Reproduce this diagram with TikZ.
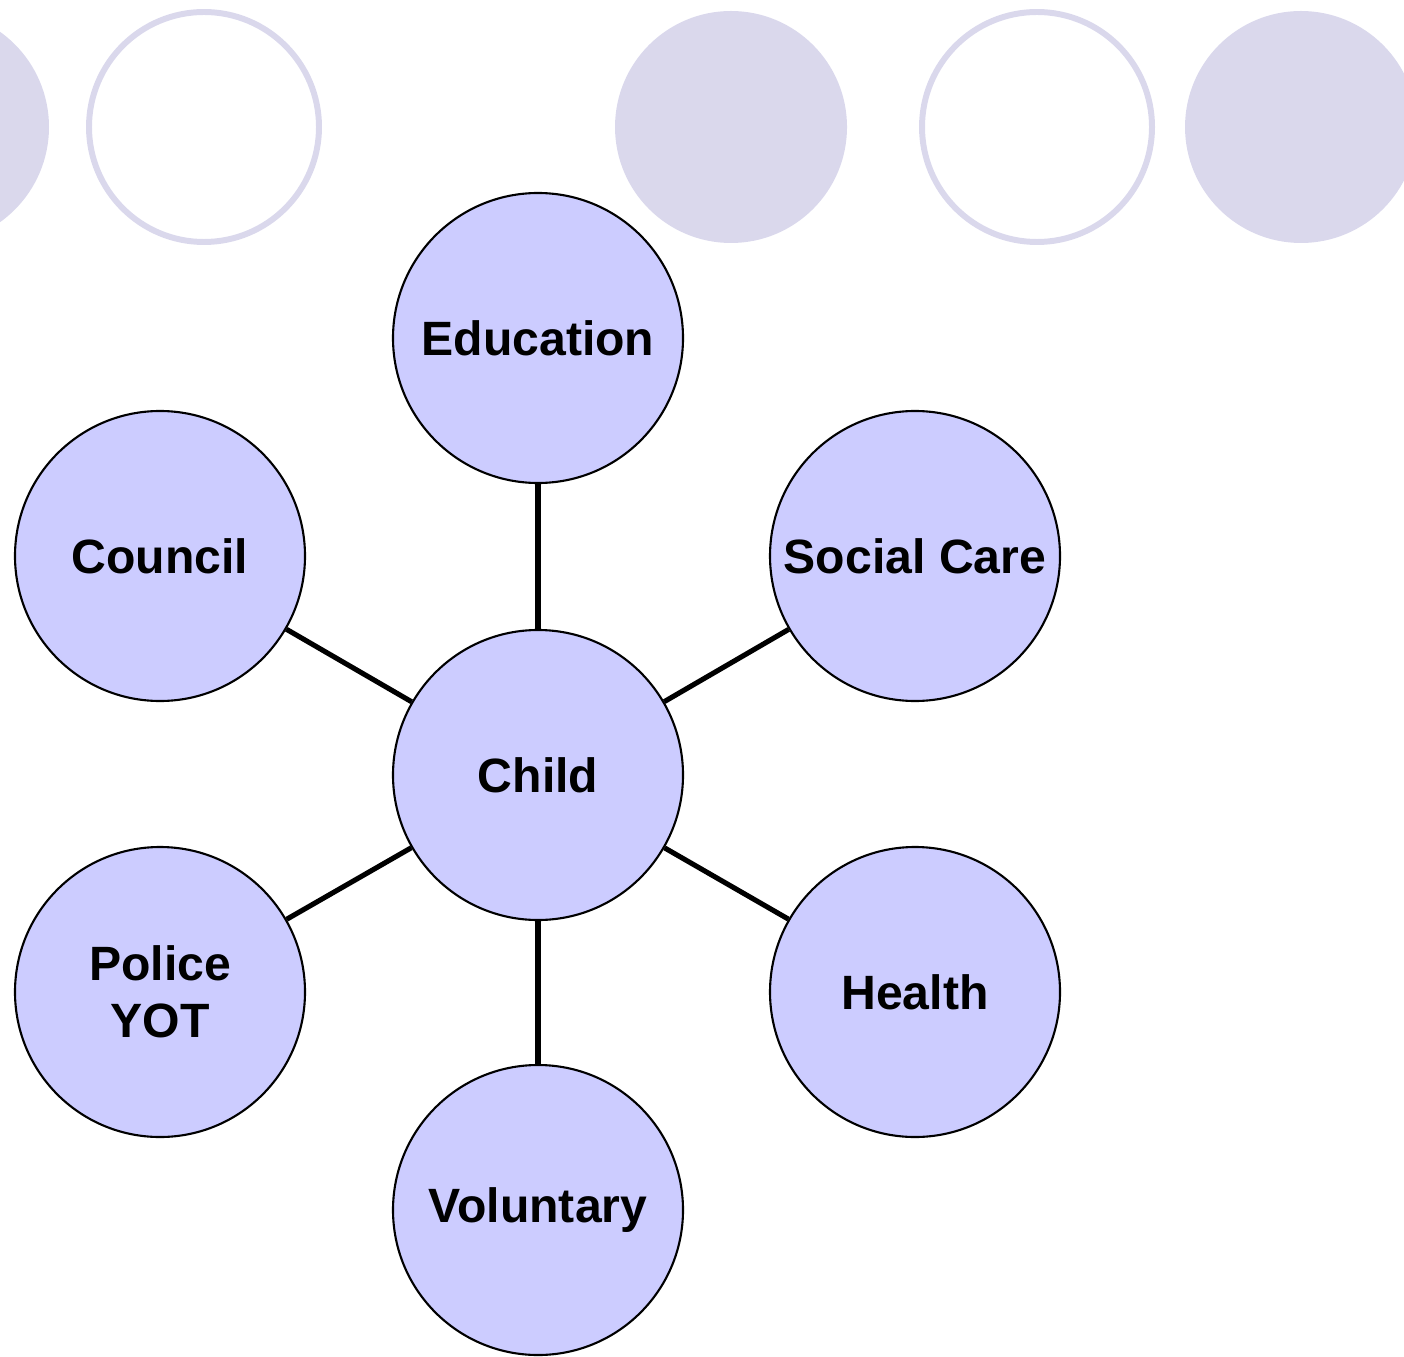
\documentclass[tikz,border=0pt]{standalone}
\usepackage{fontspec}
\setmainfont{Liberation Sans}
\definecolor{agency}{HTML}{CCCCFF}
\definecolor{dotband}{HTML}{DAD8EC}
\tikzset{
  agency/.style={circle, draw=black, line width=0.6pt, fill=agency,
    minimum size=2.9cm, inner sep=0pt, align=center,
    font=\fontsize{13.7}{16.2}\selectfont\bfseries},
  link/.style={line width=1.45pt, black},
  dotfull/.style={fill=dotband},
  dotring/.style={draw=dotband, line width=1.7pt}
}
\begin{document}
\begin{tikzpicture}
  \clip (0,0) rectangle (14.04,13.56);
  \useasboundingbox (0,0) rectangle (14.04,13.56);

  % band of circles along the top
  \fill[dotfull] (-0.68,12.29) circle (1.17);
  \draw[dotring] (2.04,12.29) circle (1.15);
  \fill[dotfull] (7.31,12.29) circle (1.16);
  \draw[dotring] (10.37,12.29) circle (1.15);
  \fill[dotfull] (13.01,12.29) circle (1.16);

  % the child in the middle, agencies around it
  \node[agency] (child) at (5.38,5.81) {Child};
  \node[agency] (education) at (5.38,10.18) {Education};
  \node[agency] (social) at (9.15,8.00) {Social Care};
  \node[agency] (council) at (1.60,8.00) {Council};
  \node[agency] (police) at (1.60,3.64) {Police\\YOT};
  \node[agency] (health) at (9.15,3.64) {Health};
  \node[agency] (voluntary) at (5.38,1.46) {Voluntary};

  % spokes
  \draw[link] (child) -- (education);
  \draw[link] (child) -- (social);
  \draw[link] (child) -- (council);
  \draw[link] (child) -- (police);
  \draw[link] (child) -- (health);
  \draw[link] (child) -- (voluntary);
\end{tikzpicture}
\end{document}
